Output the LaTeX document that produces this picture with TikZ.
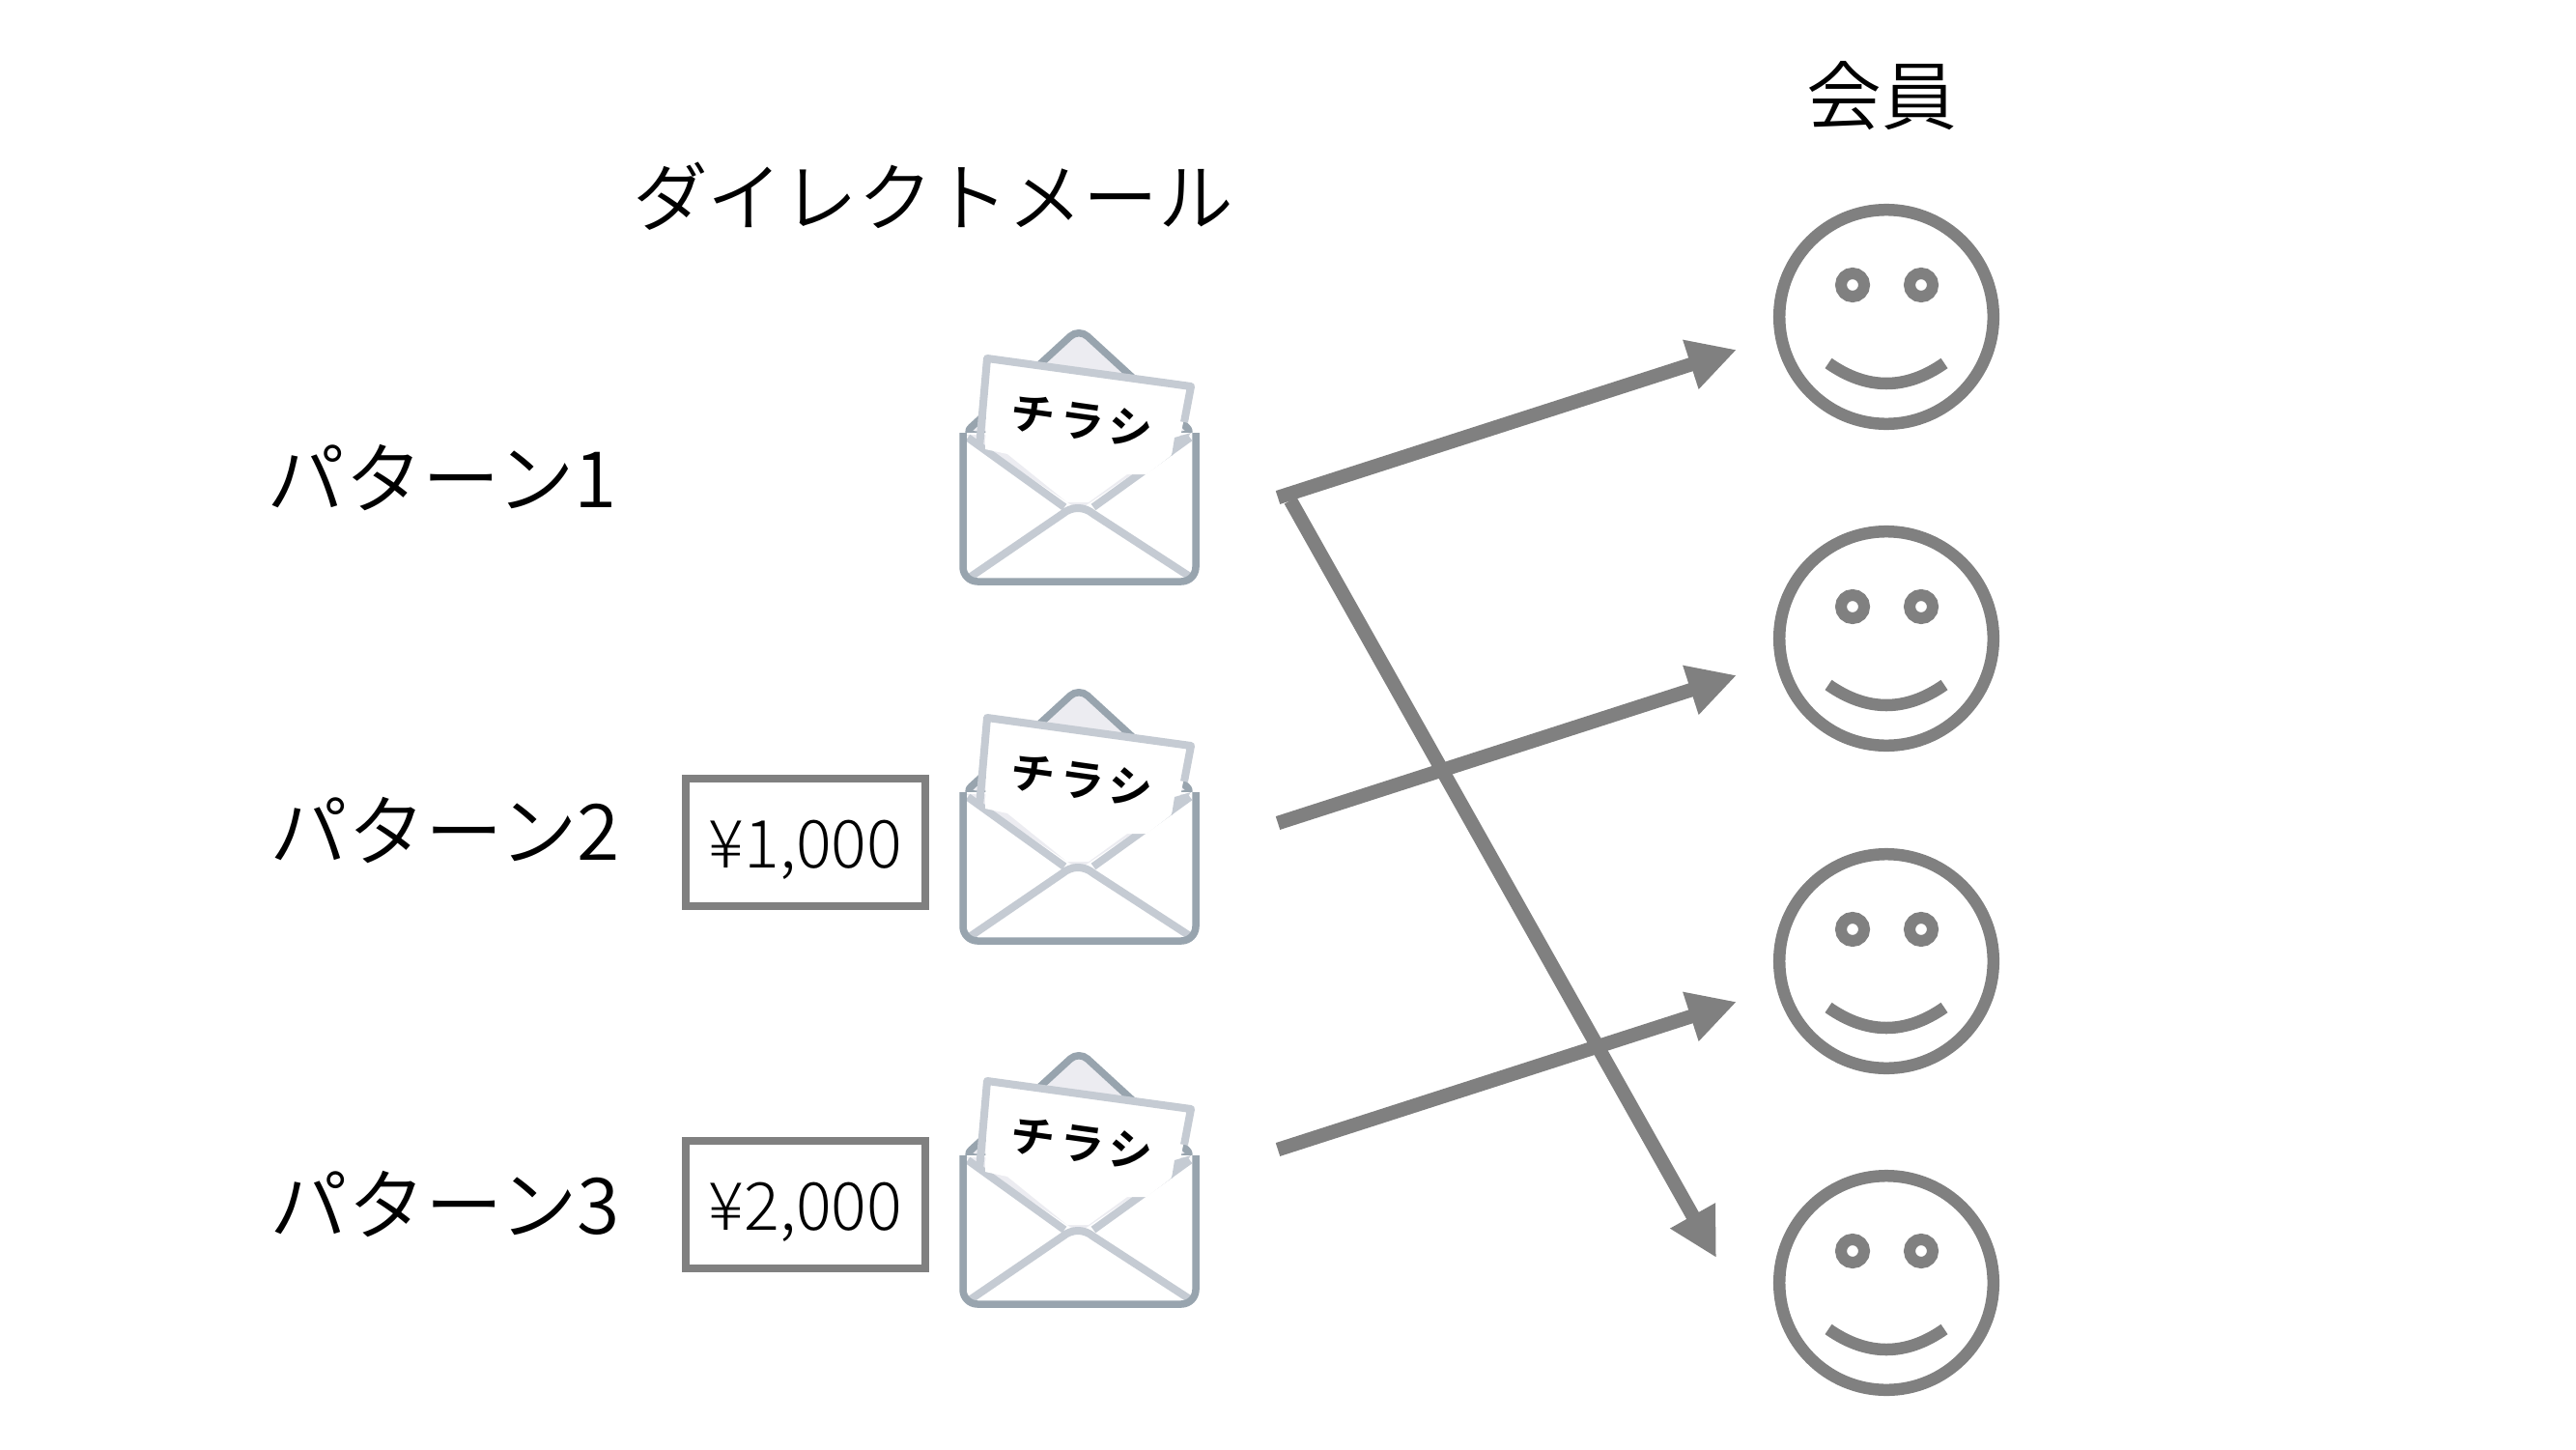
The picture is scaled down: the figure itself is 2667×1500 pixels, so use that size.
\documentclass[tikz,border=0pt]{standalone}
\usepackage{fontspec}
\usepackage{xcolor}
\usetikzlibrary{arrows.meta,positioning}
\setmainfont{Noto Sans CJK JP DemiLight}
\newfontfamily\chirashifont[LetterSpace=12]{Noto Sans CJK JP Bold}
\newfontfamily\pricefont{Noto Sans CJK JP Light}
\definecolor{linegray}{HTML}{808080}
\definecolor{envdark}{HTML}{98A4AE}
\definecolor{envlight}{HTML}{C5CBD3}
\definecolor{envshade}{HTML}{ECECF1}

\begin{document}
\begin{tikzpicture}[
    x=0.01cm, y=-0.01cm,
    title/.style={font=\fontsize{22.1pt}{24pt}\selectfont, inner sep=0pt},
    patternlabel/.style={font=\fontsize{22.9pt}{25pt}\selectfont, inner sep=0pt},
    pricebox/.style={rectangle, draw=linegray, line width=0.08cm, minimum width=2.47cm, minimum height=1.31cm, inner sep=0pt, text height=0.52cm, text depth=0cm, font=\pricefont\fontsize{19.5pt}{22pt}\selectfont},
    arrow/.style={-{Triangle[length=0.5cm,width=0.5cm]}, draw=linegray, line width=0.145cm},
    envedge/.style={draw=envdark, line width=0.075cm, line join=round},
    envline/.style={draw=envlight, line width=0.08cm, line join=round},
    facering/.style={circle, draw=linegray, line width=0.125cm, minimum size=2.215cm, inner sep=0pt},
    eye/.style={circle, draw=linegray, line width=0.12cm, fill=white, minimum size=0.24cm, inner sep=0pt},
    envelope/.pic={
        % back flap
        \filldraw[envedge, fill=envshade, rounded corners=0.12cm] (37,130) -- (157,20) -- (277,130) -- cycle;
        % inside of the envelope
        \fill[white] (37,128) -- (277,128) -- (278,282) -- (37,282) -- cycle;
        \fill[envshade] (40,130) -- (157,208) -- (273,130) -- cycle;
        \draw[envline] (42,133) -- (142,205);
        \draw[envline] (172,205) -- (272,133);
        % the sheet
        \fill[white] (62,48) -- (273,78) -- (262,132) -- (252,152) -- (227,171) -- (207,171) -- (167,200) -- (145,200) -- (83,150) -- (60,145) -- cycle;
        \draw[envline] (54,143) -- (62,51) -- (273,80) -- (266,117);
        \fill[envlight] (253,152) -- (256,133) -- (273,128) -- cycle;
        \node[rotate=-8, inner sep=0pt, font=\chirashifont\fontsize{13pt}{15pt}\selectfont] (sheet) at (160,116) {チラシ};
        % front of the envelope
        \draw[envline, line cap=round] (45,277) -- (140,212) to[bend left=40] (172,212) -- (272,277);
        \draw[envedge, rounded corners=0.15cm] (37,128) -- (37,282) -- (278,282) -- (278,128);
    },
    smiley/.pic={
        \node[facering] (ring) at (0,0) {};
        \node[eye] (eyeleft) at (-35,-33) {};
        \node[eye] (eyeright) at (36,-33) {};
        \draw[linegray, line width=0.125cm] (-60,48) .. controls (-20,76) and (20,76) .. (60,48);
    }
]
    \useasboundingbox (0,0) rectangle (2667,1500);

    % Titles
    \node[title] (dmtitle) at (966,203) {ダイレクトメール};
    \node[title] (membertitle) at (1948,99) {会員};

    % Patterns
    \node[patternlabel] (pattern1) at (458,495) {パターン1};
    \node[patternlabel] (pattern2) at (461,860) {パターン2};
    \node[patternlabel] (pattern3) at (461,1247) {パターン3};

    % Prices
    \node[pricebox] (price2) at (834,872) {¥1,000};
    \node[pricebox] (price3) at (834,1247) {¥2,000};

    % Envelopes
    \pic (env1) at (960,320) {envelope};
    \pic (env2) at (960,692) {envelope};
    \pic (env3) at (960,1068) {envelope};

    % Members
    \pic (member1) at (1953,328) {smiley};
    \pic (member2) at (1953,661) {smiley};
    \pic (member3) at (1953,995) {smiley};
    \pic (member4) at (1953,1328) {smiley};

    % Arrow ends
    \coordinate (from1) at (1323,515);
    \coordinate (from2) at (1323,852);
    \coordinate (from3) at (1323,1190);
    \coordinate (from4) at (1336,518);
    \coordinate (to1) at (1798,362);
    \coordinate (to2) at (1798,699);
    \coordinate (to3) at (1798,1037);
    \coordinate (to4) at (1777,1302);

    % Arrows
    \draw[arrow] (from1) -- (to1);
    \draw[arrow] (from2) -- (to2);
    \draw[arrow] (from3) -- (to3);
    \draw[arrow] (from4) -- (to4);
\end{tikzpicture}
\end{document}
